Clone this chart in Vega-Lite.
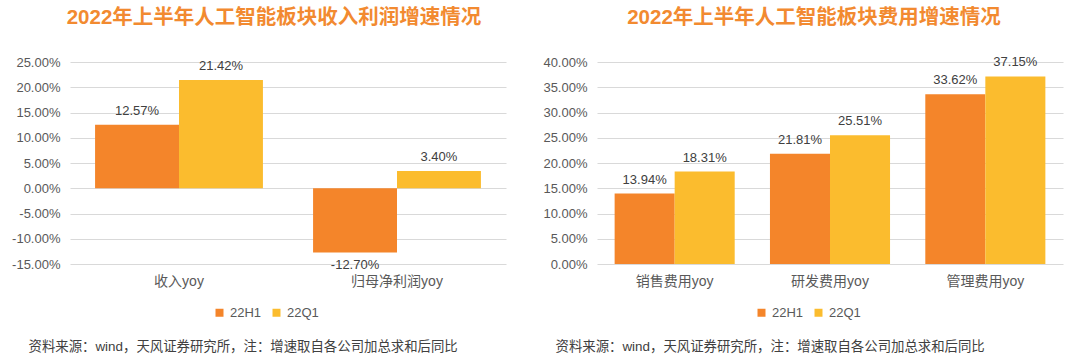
{
  "$schema": "https://vega.github.io/schema/vega-lite/v6.json",
  "background": "white",
  "padding": {"left": 11, "top": 7, "right": 5, "bottom": 5},
  "spacing": 36,
  "config": {
    "font": "Liberation Sans, Noto Sans CJK SC",
    "view": {"stroke": null},
    "locale": {"number": {"decimal": ".", "thousands": ",", "grouping": [3], "currency": ["$", ""], "minus": "-"}},
    "axis": {"gridColor": "#d9d9d9", "gridWidth": 1}
  },
  "resolve": {"scale": {"color": "independent", "xOffset": "independent"}, "legend": {"color": "independent"}},
  "hconcat": [
    {
      "width": 436,
      "height": 202,
      "title": {"text": "2022年上半年人工智能板块收入利润增速情况", "fontSize": 20.5, "fontWeight": "bold", "color": "#F28A30", "frame": "group", "dx": -14, "offset": 28},
      "data": {"values": [
        {"cat": "收入yoy", "series": "22H1", "value": 0.1257},
        {"cat": "收入yoy", "series": "22Q1", "value": 0.2142},
        {"cat": "归母净利润yoy", "series": "22H1", "value": -0.127},
        {"cat": "归母净利润yoy", "series": "22Q1", "value": 0.034}
      ]},
      "encoding": {
        "x": {"field": "cat", "type": "nominal", "sort": null,
          "scale": {"paddingInner": 0.23, "paddingOuter": 0.115},
          "axis": {"title": "资料来源：wind，天风证券研究所，注：增速取自各公司加总求和后同比", "labelAngle": 0, "domain": false, "ticks": false, "labelPadding": 10, "labelFontSize": 14, "labelColor": "#595959",
            "titleAnchor": "start", "titleAlign": "left", "titleX": -42, "titleY": 82, "titleFontSize": 13.4, "titleFontWeight": "normal", "titleColor": "#404040", "titleBaseline": "middle"}},
        "xOffset": {"field": "series", "type": "nominal", "scale": {"paddingInner": 0, "paddingOuter": 0}},
        "y": {"field": "value", "type": "quantitative",
          "scale": {"domain": [-0.15, 0.25], "nice": false, "zero": false},
          "axis": {"title": null, "format": ".2%", "values": [-0.15, -0.1, -0.05, 0, 0.05, 0.1, 0.15, 0.2, 0.25], "domain": false, "ticks": false, "labelPadding": 10, "labelFontSize": 13, "labelColor": "#595959"}}
      },
      "layer": [
        {"mark": {"type": "bar"},
          "encoding": {"color": {"field": "series", "type": "nominal",
            "scale": {"domain": ["22H1", "22Q1"], "range": ["#F4852A", "#FBBC2E"]},
            "legend": {"orient": "none", "legendX": 143, "legendY": 244, "direction": "horizontal", "title": null, "symbolType": "square", "symbolSize": 64, "symbolStrokeWidth": 0, "labelFontSize": 13, "labelColor": "#595959", "columnPadding": 8, "labelOffset": 4}}}},
        {"transform": [{"filter": "datum.value >= 0"}],
          "mark": {"type": "text", "baseline": "bottom", "dy": -7, "fontSize": 13, "color": "#404040"},
          "encoding": {"text": {"field": "value", "type": "quantitative", "format": ".2%"}}},
        {"transform": [{"filter": "datum.value < 0"}],
          "mark": {"type": "text", "baseline": "top", "dy": 7, "fontSize": 13, "color": "#404040"},
          "encoding": {"text": {"field": "value", "type": "quantitative", "format": ".2%"}}}
      ]
    },
    {
      "width": 466,
      "height": 202,
      "title": {"text": "2022年上半年人工智能板块费用增速情况", "fontSize": 20.5, "fontWeight": "bold", "color": "#F28A30", "frame": "group", "dx": -16, "offset": 28},
      "data": {"values": [
        {"cat": "销售费用yoy", "series": "22H1", "value": 0.1394},
        {"cat": "销售费用yoy", "series": "22Q1", "value": 0.1831},
        {"cat": "研发费用yoy", "series": "22H1", "value": 0.2181},
        {"cat": "研发费用yoy", "series": "22Q1", "value": 0.2551},
        {"cat": "管理费用yoy", "series": "22H1", "value": 0.3362},
        {"cat": "管理费用yoy", "series": "22Q1", "value": 0.3715}
      ]},
      "encoding": {
        "x": {"field": "cat", "type": "nominal", "sort": null,
          "scale": {"paddingInner": 0.227, "paddingOuter": 0.1135},
          "axis": {"title": "资料来源：wind，天风证券研究所，注：增速取自各公司加总求和后同比", "labelAngle": 0, "domain": false, "ticks": false, "labelPadding": 10, "labelFontSize": 14, "labelColor": "#595959",
            "titleAnchor": "start", "titleAlign": "left", "titleX": -42, "titleY": 82, "titleFontSize": 13.4, "titleFontWeight": "normal", "titleColor": "#404040", "titleBaseline": "middle"}},
        "xOffset": {"field": "series", "type": "nominal", "scale": {"paddingInner": 0, "paddingOuter": 0}},
        "y": {"field": "value", "type": "quantitative",
          "scale": {"domain": [0, 0.4], "nice": false},
          "axis": {"title": null, "format": ".2%", "values": [0, 0.05, 0.1, 0.15, 0.2, 0.25, 0.3, 0.35, 0.4], "domain": false, "ticks": false, "labelPadding": 10, "labelFontSize": 13, "labelColor": "#595959"}}
      },
      "layer": [
        {"mark": {"type": "bar"},
          "encoding": {"color": {"field": "series", "type": "nominal",
            "scale": {"domain": ["22H1", "22Q1"], "range": ["#F4852A", "#FBBC2E"]},
            "legend": {"orient": "none", "legendX": 158, "legendY": 244, "direction": "horizontal", "title": null, "symbolType": "square", "symbolSize": 64, "symbolStrokeWidth": 0, "labelFontSize": 13, "labelColor": "#595959", "columnPadding": 8, "labelOffset": 4}}}},
        {"mark": {"type": "text", "baseline": "bottom", "dy": -7, "fontSize": 13, "color": "#404040"},
          "encoding": {"text": {"field": "value", "type": "quantitative", "format": ".2%"}}}
      ]
    }
  ]
}
